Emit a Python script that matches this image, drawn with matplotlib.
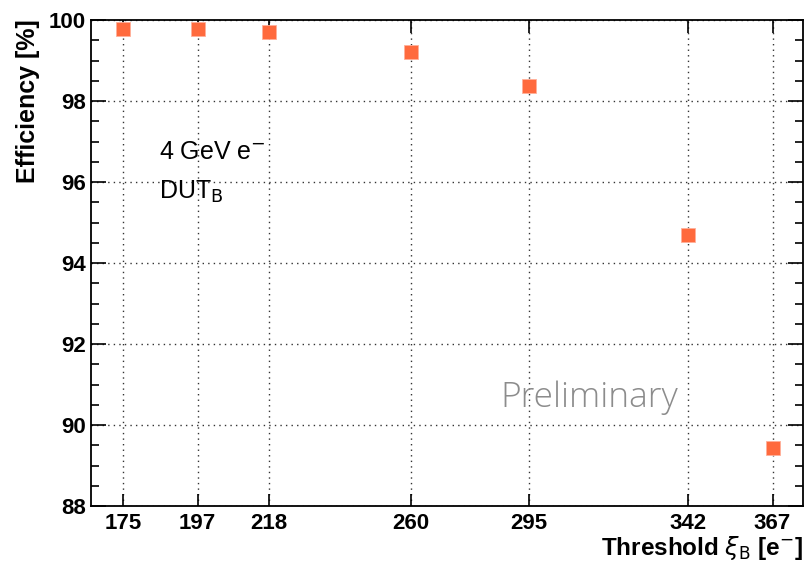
import matplotlib
matplotlib.use("Agg")
import matplotlib.pyplot as plt
from matplotlib.ticker import MultipleLocator

# threshold values (electrons) and measured efficiency (%)
threshold = [175, 197, 218, 260, 295, 342, 367]
efficiency = [99.77, 99.79, 99.70, 99.21, 98.37, 94.69, 89.42]
tick_labels = ["175", "197", "218", "260", "295", "342", "367"]

plt.rcParams['font.family'] = ['Liberation Sans', 'DejaVu Sans']

fig = plt.figure(figsize=(8.05, 5.62), dpi=100)
ax = fig.add_axes([91 / 805, 1 - 506 / 562, (803 - 91) / 805, (506 - 20) / 562])

ax.plot(threshold, efficiency, ls='none', marker='s', ms=10.5,
        mfc='#ff6a3d', mec='#ffb09a', mew=0.6, zorder=3)

ax.set_xlim(165.5, 376)
ax.set_ylim(88, 100)

ax.set_xticks(threshold)
ax.set_xticklabels(tick_labels)
ax.yaxis.set_major_locator(MultipleLocator(2))
ax.yaxis.set_minor_locator(MultipleLocator(0.5))

ax.tick_params(axis='both', which='both', direction='in', top=True, right=True,
               labelsize=16, width=1.2)
ax.tick_params(axis='x', which='major', length=9, pad=5)
ax.tick_params(axis='y', which='major', length=11)
ax.tick_params(axis='y', which='minor', length=6)
for lab in ax.get_xticklabels() + ax.get_yticklabels():
    lab.set_fontweight('bold')

ax.grid(True, which='major', ls=(0, (1, 3)), color='#333333', lw=1.0)
for s in ax.spines.values():
    s.set_linewidth(1.3)

fig.text(803 / 805, 1 - 548 / 562, r"Threshold $\xi_{\mathrm{B}}$ [e$^{\mathrm{-}}$]",
         ha='right', va='center', fontsize=17.5, fontweight='bold')
fig.text(28 / 805, 1 - 19 / 562, "Efficiency [%]", rotation=90, ha='center', va='top',
         fontsize=18, fontweight='bold')

ax.text(0.096, 0.728, r"4 GeV e$^{\mathrm{-}}$", transform=ax.transAxes,
        fontsize=18, va='center', ha='left')
ax.text(0.096, 0.646, r"DUT$_{\mathrm{B}}$", transform=ax.transAxes,
        fontsize=18, va='center', ha='left')
ax.text(0.575, 0.223, "Preliminary", transform=ax.transAxes, fontsize=25.5,
        color='#8c8c8c', family=['Open Sans', 'DejaVu Sans'], fontweight='light',
        va='center', ha='left')

fig.savefig("out.png", dpi=100)
